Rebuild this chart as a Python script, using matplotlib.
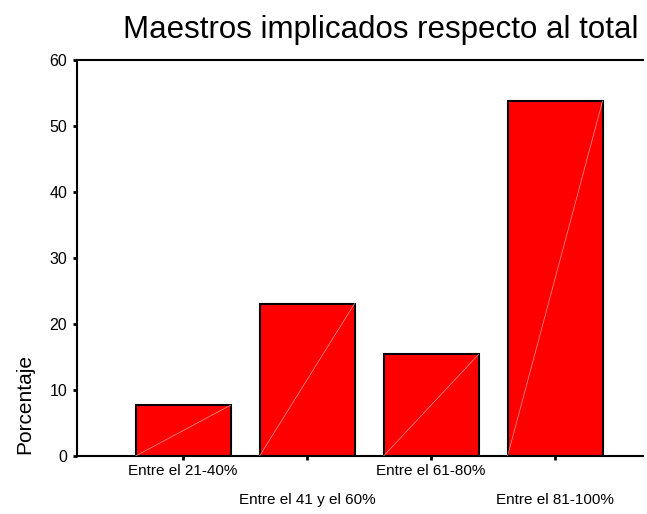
import matplotlib
matplotlib.use("Agg")
import matplotlib.pyplot as plt
import numpy as np

plt.rcParams['font.family'] = ['Liberation Sans', 'DejaVu Sans']

categories = ["Entre el 21-40%", "Entre el 41 y el 60%", "Entre el 61-80%", "Entre el 81-100%"]
values = [7.7, 23.1, 15.4, 53.8]
yticks = [0, 10, 20, 30, 40, 50, 60]

fig = plt.figure(figsize=(6.47, 5.14), dpi=100)
ax = fig.add_axes([0.119, 0.1128, 0.875, 0.7702])

x = np.arange(len(categories))
w = 0.766
ax.bar(x, values, width=w, color='#ff0000', edgecolor='black', linewidth=1.5, zorder=2)
for xi, v in zip(x, values):
    ax.plot([xi - w / 2, xi + w / 2], [0, v], color='#ff9a9a', linewidth=0.5, zorder=3)

ax.set_xlim(-0.855, 3.71)
ax.set_ylim(0, 60)
ax.set_yticks(yticks)
ax.set_yticklabels([str(t) for t in yticks], fontsize=11.5)
ax.set_xticks(x)
ax.set_xticklabels([])
for i, c in enumerate(categories):
    off = -0.038 if i % 2 == 0 else -0.111
    ax.text(i, off, c, transform=ax.get_xaxis_transform(), ha='center', va='center', fontsize=11)

ax.spines['right'].set_visible(False)
for s in ['left', 'bottom', 'top']:
    ax.spines[s].set_linewidth(1.5)
ax.tick_params(axis='y', length=3, width=2, pad=4)
ax.tick_params(axis='x', length=3, width=2)

ax.set_ylabel("Porcentaje", fontsize=15)
ax.yaxis.set_label_coords(-0.076, 0.131)
ax.yaxis.label.set_verticalalignment('bottom')
fig.text(0.588, 0.942, "Maestros implicados respecto al total", ha='center', va='center', fontsize=22.5)

fig.savefig("out.png", dpi=100)
